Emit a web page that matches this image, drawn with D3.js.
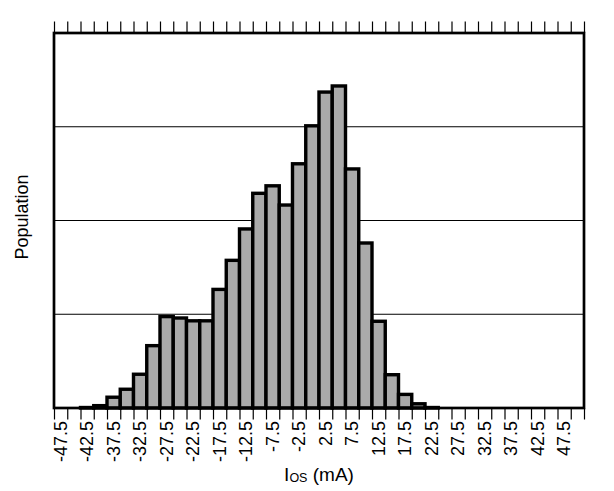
<!DOCTYPE html>
<html>
<head>
<meta charset="utf-8">
<script src="https://cdn.jsdelivr.net/npm/d3@7"></script>
<style>
  body { margin: 0; background: #fff; }
  text { font-family: Arial, "Liberation Sans", sans-serif; fill: #000; }
</style>
</head>
<body>
<div id="chart"></div>
<script>
// histogram bins (centre value of each 2.5 mA bin) and population counts
var bins = [-47.5, -45, -42.5, -40, -37.5, -35, -32.5, -30, -27.5, -25,
            -22.5, -20, -17.5, -15, -12.5, -10, -7.5, -5, -2.5, 0,
            2.5, 5, 7.5, 10, 12.5, 15, 17.5, 20, 22.5, 25,
            27.5, 30, 32.5, 35, 37.5, 40, 42.5, 45, 47.5, 50];
var counts = [0, 0, 1, 5, 23, 40, 72, 133, 195, 192,
              186, 186, 253, 315, 382, 458, 474, 433, 521, 602,
              674, 687, 510, 352, 185, 71, 29, 9, 1, 0,
              0, 0, 0, 0, 0, 0, 0, 0, 0, 0];
var tickLabels = ["-47.5", "-42.5", "-37.5", "-32.5", "-27.5", "-22.5", "-17.5",
                  "-12.5", "-7.5", "-2.5", "2.5", "7.5", "12.5", "17.5", "22.5",
                  "27.5", "32.5", "37.5", "42.5", "47.5"];
var gridValues = [200, 400, 600];

var fullWidth = 614, fullHeight = 491;
var margin = {top: 33, right: 30, bottom: 83, left: 54};
var width = fullWidth - margin.left - margin.right;
var height = fullHeight - margin.top - margin.bottom;

var data = bins.map(function(b, i) { return {bin: b, label: String(b), count: counts[i]}; });

var x = d3.scaleBand()
  .domain(data.map(function(d) { return d.label; }))
  .range([0, width])
  .paddingInner(0).paddingOuter(0);
// bin edges, used for the tick marks between bars
var xEdge = d3.scaleLinear().domain([0, bins.length]).range([0, width]);
var y = d3.scaleLinear().domain([0, 800]).range([height, 0]);

var svg = d3.select("#chart").append("svg")
  .attr("width", fullWidth)
  .attr("height", fullHeight);

var g = svg.append("g")
  .attr("transform", "translate(" + margin.left + "," + margin.top + ")");

// gridlines
g.selectAll(".grid").data(gridValues).enter().append("line")
  .attr("x1", 0).attr("x2", width)
  .attr("y1", function(d) { return y(d); })
  .attr("y2", function(d) { return y(d); })
  .attr("stroke", "#000").attr("stroke-width", 1.2);

// bars
g.selectAll(".bar").data(data.filter(function(d) { return d.count > 0; })).enter().append("rect")
  .attr("x", function(d) { return x(d.label); })
  .attr("width", x.bandwidth())
  .attr("y", function(d) { return y(d.count); })
  .attr("height", function(d) { return height - y(d.count); })
  .attr("fill", "#aaaaaa")
  .attr("stroke", "#000")
  .attr("stroke-width", 3.4);

// tick marks at bin edges, top and bottom
var edges = d3.range(bins.length + 1);
var topAxis = g.append("g")
  .call(d3.axisTop(xEdge).tickValues(edges).tickFormat("").tickSize(11.5).tickSizeOuter(0));
var botAxis = g.append("g")
  .attr("transform", "translate(0," + height + ")")
  .call(d3.axisBottom(xEdge).tickValues(edges).tickFormat("").tickSize(11.5).tickSizeOuter(0));
[topAxis, botAxis].forEach(function(a) {
  a.select(".domain").remove();
  a.selectAll(".tick line").attr("stroke", "#000").attr("stroke-width", 1.2);
});

// rotated category labels, every other bin
var labelAxis = g.append("g")
  .attr("transform", "translate(0," + height + ")")
  .call(d3.axisBottom(x).tickValues(tickLabels).tickSize(0));
labelAxis.select(".domain").remove();
labelAxis.selectAll("text")
  .attr("font-size", "18px")
  .attr("font-family", "Arial, 'Liberation Sans', sans-serif")
  .attr("fill", "#000")
  .attr("text-anchor", "end")
  .attr("transform", "rotate(-90)")
  .attr("x", -13)
  .attr("y", 0)
  .attr("dy", "0.35em");

// plot frame
g.append("rect")
  .attr("x", 0).attr("y", 0)
  .attr("width", width).attr("height", height)
  .attr("fill", "none")
  .attr("stroke", "#000")
  .attr("stroke-width", 2.7);

// axis titles
var xTitle = svg.append("text")
  .attr("x", margin.left + width / 2)
  .attr("y", 481)
  .attr("text-anchor", "middle")
  .attr("font-size", "19px");
xTitle.append("tspan").text("I");
xTitle.append("tspan").attr("font-size", "12.5px").attr("dy", 1).text("OS");
xTitle.append("tspan").attr("dy", -1).text(" (mA)");

svg.append("text")
  .attr("transform", "translate(28," + 217 + ") rotate(-90)")
  .attr("text-anchor", "middle")
  .attr("font-size", "18px")
  .text("Population");
</script>
</body>
</html>
